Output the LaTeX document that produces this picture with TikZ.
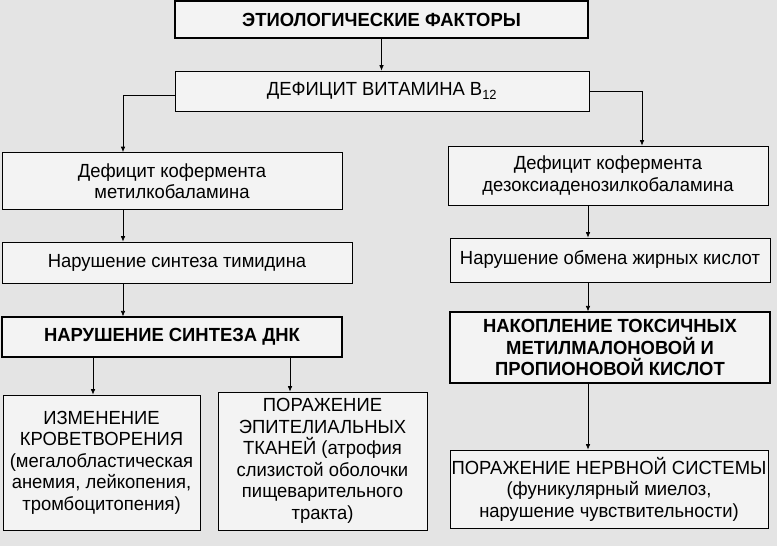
\documentclass[tikz,border=0pt]{standalone}
\usepackage{fontspec}
\setmainfont[FakeStretch=0.97]{Liberation Sans}
\usetikzlibrary{positioning,arrows.meta,calc}
\definecolor{uPage}{HTML}{E4E4E4}
\definecolor{uBox}{HTML}{F3F3F3}
\tikzset{
  blk/.style={draw, align=center, fill=uBox, line width=0.7pt, inner sep=1pt,
              font=\fontsize{19}{21.5}\selectfont},
  key/.style={blk, line width=1.1pt, font=\fontsize{19}{21.5}\selectfont\bfseries},
  flow/.style={-{Latex[length=5.5pt, width=4.5pt]}, line width=0.7pt},
}

\begin{document}
\begin{tikzpicture}[x=1pt, y=-1pt]
\fill[uPage] (0,0) rectangle (777,546);
\useasboundingbox (0,0) rectangle (777,546);

%% ── the two top boxes ───────────────────────────────────────────────────
\node[key, minimum width=413pt, minimum height=37pt] (etio) at (381.5,19.5)
  {ЭТИОЛОГИЧЕСКИЕ ФАКТОРЫ};
\node[blk, minimum width=414pt, minimum height=40pt] (vitb) at (382,91)
  {ДЕФИЦИТ ВИТАМИНА B\textsubscript{12}};

%% ── left branch ─────────────────────────────────────────────────────────
\node[blk, minimum width=340pt, minimum height=57pt] (kofL) at (172,181)
  {Дефицит кофермента\\метилкобаламина};
\node[blk, minimum width=350pt, minimum height=41pt] (timid) at (177,262.5)
  {Нарушение синтеза тимидина};
\node[key, minimum width=340pt, minimum height=40pt] (dnk) at (172,337)
  {НАРУШЕНИЕ СИНТЕЗА ДНК};
\node[blk, minimum width=197pt, minimum height=135pt] (krov) at (101.5,462.5)
  {ИЗМЕНЕНИЕ\\КРОВЕТВОРЕНИЯ\\(мегалобластическая\\анемия, лейкопения,\\тромбоцитопения)};
\node[blk, minimum width=209pt, minimum height=138pt] (epit) at (322.5,461)
  {ПОРАЖЕНИЕ\\ЭПИТЕЛИАЛЬНЫХ\\ТКАНЕЙ (атрофия\\слизистой оболочки\\пищеварительного\\тракта)};

%% ── right branch ────────────────────────────────────────────────────────
\node[blk, minimum width=320pt, minimum height=59pt] (kofR) at (608,175.5)
  {Дефицит кофермента\\дезоксиаденозилкобаламина};
\node[blk, minimum width=320pt, minimum height=44pt] (lipid) at (610,260)
  {Нарушение обмена жирных кислот};
\node[key, minimum width=320pt, minimum height=71pt] (toxic) at (610,347.5)
  {НАКОПЛЕНИЕ ТОКСИЧНЫХ\\МЕТИЛМАЛОНОВОЙ И\\ПРОПИОНОВОЙ КИСЛОТ};
\node[blk, minimum width=318pt, minimum height=78pt] (nerv) at (609,489)
  {ПОРАЖЕНИЕ НЕРВНОЙ СИСТЕМЫ\\(фуникулярный миелоз,\\нарушение чувствительности)};

%% ── columns the arrows run down ─────────────────────────────────────────
\coordinate (lcol) at (123,0);
\coordinate (rtop) at (642,0);
\coordinate (rcol) at (588,0);
\coordinate (kcol) at (93,0);
\coordinate (ecol) at (290,0);

%% ── arrows ──────────────────────────────────────────────────────────────
\draw[flow] (etio.south) -- (etio.south |- vitb.north);
\draw[flow] ([yshift=-4pt]vitb.west) -| (lcol |- kofL.north);
\draw[flow] (vitb.east) -| (rtop |- kofR.north);
\draw[flow] (lcol |- kofL.south) -- (lcol |- timid.north);
\draw[flow] (lcol |- timid.south) -- (lcol |- dnk.north);
\draw[flow] (kcol |- dnk.south) -- (kcol |- krov.north);
\draw[flow] (ecol |- dnk.south) -- (ecol |- epit.north);
\draw[flow] (rcol |- kofR.south) -- (rcol |- lipid.north);
\draw[flow] (rcol |- lipid.south) -- (rcol |- toxic.north);
\draw[flow] (rcol |- toxic.south) -- (rcol |- nerv.north);

\end{tikzpicture}
\end{document}
